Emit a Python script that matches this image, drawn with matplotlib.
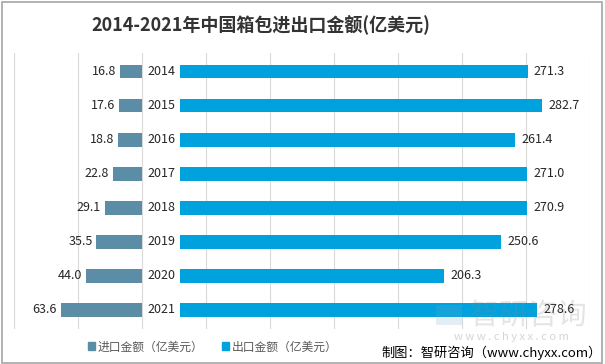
import numpy as np
import matplotlib.pyplot as plt
from matplotlib.patches import Patch, Rectangle, PathPatch
from matplotlib.textpath import TextPath
from matplotlib.font_manager import FontProperties
from matplotlib.transforms import Affine2D

plt.rcParams['font.family'] = ['Noto Sans CJK SC', 'DejaVu Sans']

years = ['2014', '2015', '2016', '2017', '2018', '2019', '2020', '2021']
imports = [16.8, 17.6, 18.8, 22.8, 29.1, 35.5, 44.0, 63.6]
exports = [271.3, 282.7, 261.4, 271.0, 270.9, 250.6, 206.3, 278.6]
gap = 30  # room for the year labels between the two sides

imp_color = '#5B8DA6'
exp_color = '#00A2DE'

fig = plt.figure(figsize=(6.05, 3.64), dpi=100)
ax = fig.add_axes([0.023, 0.0975, 0.952, 0.757])

y = np.arange(len(years))
ax.barh(y, [-v for v in imports], height=0.4, color=imp_color, zorder=2)
ax.barh(y, exports, left=gap, height=0.4, color=exp_color, zorder=2)

for i in range(len(years)):
    ax.text(gap / 2, y[i], years[i], ha='center', va='center', fontsize=9, color='#262626', zorder=3)
    ax.text(-imports[i] - 3, y[i], f'{imports[i]:.1f}', ha='right', va='center', fontsize=9, color='#262626')
    ax.text(gap + exports[i] + 5, y[i], f'{exports[i]:.1f}', ha='left', va='center', fontsize=9, color='#262626')

ax.set_xlim(-100, 350)
ax.set_ylim(len(years) - 0.45, -0.55)
ax.set_xticks(np.arange(-100, 351, 50))
ax.set_yticks([])
ax.tick_params(axis='x', length=0, labelbottom=False)
ax.grid(axis='x', color='#D9D9D9', linewidth=0.8, zorder=0)
for s in ax.spines.values():
    s.set_visible(False)

fig.text(0.431, 0.932, '2014-2021年中国箱包进出口金额(亿美元)', ha='center', va='center',
         fontsize=13, fontweight='bold', color='#333333')

handles = [Patch(color=imp_color), Patch(color=exp_color)]
fig.legend(handles, ['进口金额（亿美元）', '出口金额（亿美元）'], loc='center',
           bbox_to_anchor=(0.352, 0.047), ncol=2, frameon=False, fontsize=8.5,
           handlelength=0.6, handleheight=0.6, handletextpad=0.2, columnspacing=1.6,
           labelcolor='#595959')

# faint watermark drawn as a shape
wm = TextPath((0, 0), '智研咨询', size=21, prop=FontProperties(family='Noto Sans CJK SC'))
wm_tr = Affine2D().scale(1 / 72).translate(4.70, 0.40) + fig.dpi_scale_trans
fig.patches.append(PathPatch(wm, transform=wm_tr, facecolor='#888888', edgecolor='none', alpha=0.22))
fig.patches.append(Rectangle((4.36, 0.39), 0.26, 0.2, transform=fig.dpi_scale_trans,
                             facecolor='#6FA8C8', edgecolor='none', alpha=0.2))
fig.text(0.845, 0.074, 'w w w . c h y x x . c o m', ha='center', va='center', fontsize=8, color='#888888', alpha=0.35)

fig.text(0.995, 0.032, '制图：智研咨询（www.chyxx.com）', ha='right', va='center', fontsize=9.5, color='#000000')

fig.patches.append(Rectangle((0.003, 0.004), 0.992, 0.99, transform=fig.transFigure,
                             fill=False, edgecolor='#A6A6A6', linewidth=1.2))

fig.savefig('out.png', dpi=100)
